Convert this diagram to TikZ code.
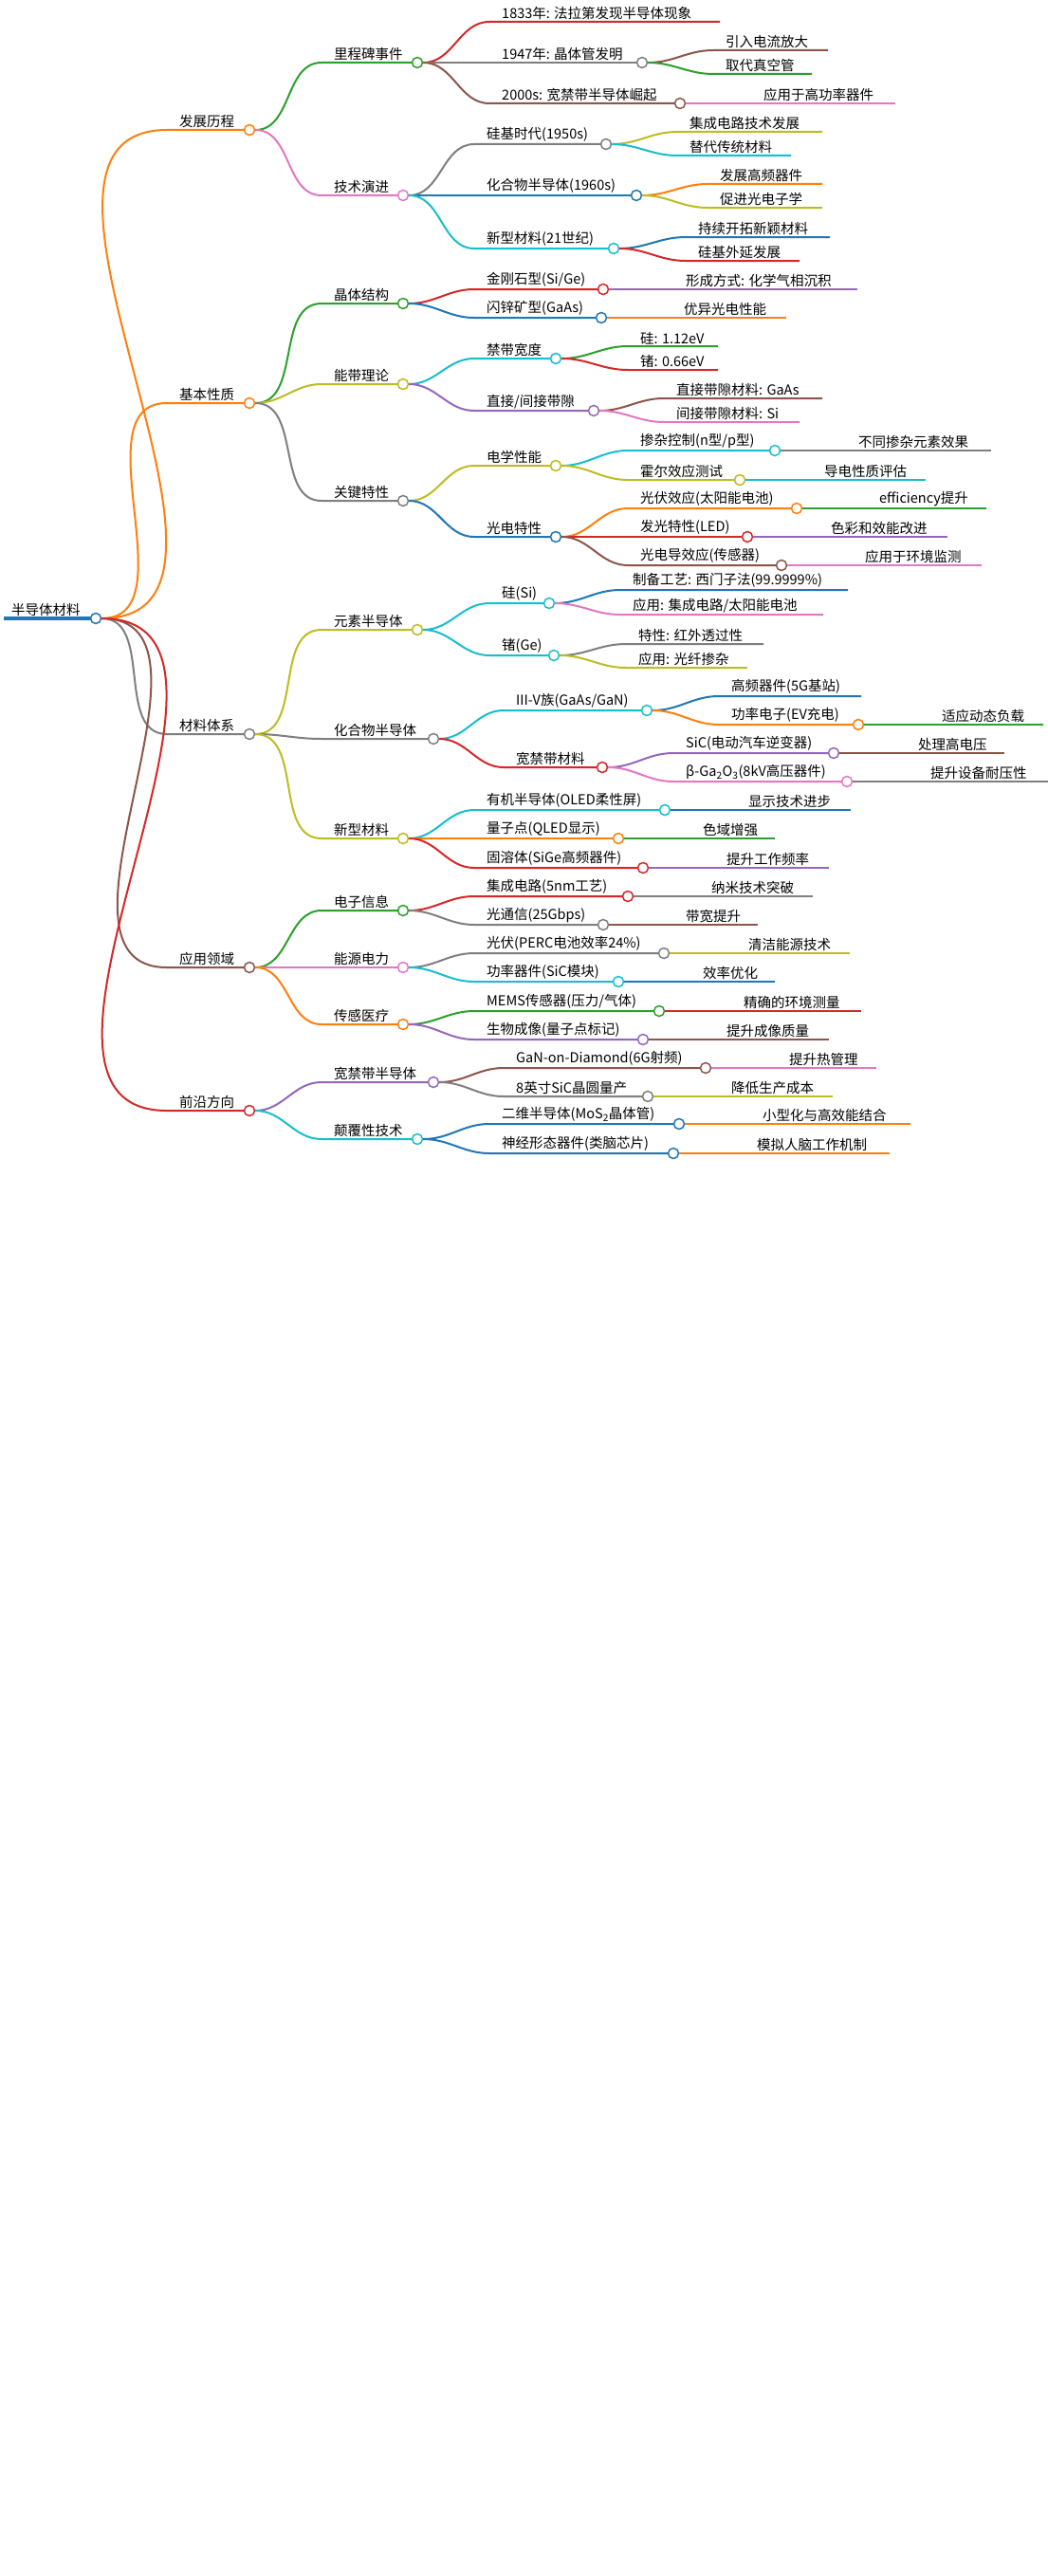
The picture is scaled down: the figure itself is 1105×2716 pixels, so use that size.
\documentclass[tikz,border=0pt]{standalone}
\usepackage{fontspec}
\setmainfont{Noto Sans CJK SC}
\definecolor{cred}{HTML}{D62728}
\definecolor{cgreen}{HTML}{2CA02C}
\definecolor{cgray}{HTML}{7F7F7F}
\definecolor{cbrown}{HTML}{8C564B}
\definecolor{cpink}{HTML}{E377C2}
\definecolor{colive}{HTML}{BCBD22}
\definecolor{ccyan}{HTML}{17BECF}
\definecolor{cblue}{HTML}{1F77B4}
\definecolor{corange}{HTML}{FF7F0E}
\definecolor{cpurple}{HTML}{9467BD}
\tikzset{
 edge/.style={line width=2pt},
 lab/.style={inner sep=1pt,font=\fontsize{14.5}{16}\selectfont,text=black},
 dot/.style={circle,fill=white,line width=1.5pt,minimum size=11pt,inner sep=0pt}
}
\newcommand\mnode[7]{%
 \coordinate (#1S) at (#4-14,#6);
 \draw[edge,#3] (#2.east) to[out=0,in=180] (#1S) -- (#5,#6);
 \node[lab,anchor=south west] (#1T) at (#4-2,#6-1) {#7};
 \node[dot,draw=#3] (#1) at (#5,#6) {};
}
\newcommand\lnode[7]{%
 \coordinate (#1S) at (#4-14,#6);
 \coordinate (#1E) at (#5,#6);
 \draw[edge,#3] (#2.east) to[out=0,in=180] (#1S) -- (#1E);
 \node[lab,anchor=south west] (#1T) at (#4-2,#6-1) {#7};
}
\begin{document}
\begin{tikzpicture}[x=1pt,y=-1pt]
\useasboundingbox[fill=white] (0,0) rectangle (1105,2716);
% root
\coordinate (rootS) at (4,652);
\draw[cblue,line width=4pt] (rootS) -- (101,652);
\node[lab,anchor=south west] (rootT) at (11,651) {半导体材料};
\node[dot,draw=cblue] (root) at (101,652) {};
% level 1
\mnode{a}{root}{corange}{190}{263}{137}{发展历程}
\mnode{b}{root}{corange}{190}{263}{425}{基本性质}
\mnode{c}{root}{cgray}{190}{263}{774}{材料体系}
\mnode{d}{root}{cbrown}{190}{263}{1020}{应用领域}
\mnode{e}{root}{cred}{190}{263}{1171}{前沿方向}
% 发展历程
\mnode{a1}{a}{cgreen}{353}{440}{66}{里程碑事件}
\mnode{a2}{a}{cpink}{353}{425}{206}{技术演进}
\lnode{a11}{a1}{cred}{530}{759}{23}{1833年: 法拉第发现半导体现象}
\mnode{a12}{a1}{cgray}{530}{677}{66}{1947年: 晶体管发明}
\mnode{a13}{a1}{cbrown}{530}{717}{109}{2000s: 宽禁带半导体崛起}
\lnode{a121}{a12}{cbrown}{766}{873}{53}{引入电流放大}
\lnode{a122}{a12}{cgreen}{766}{856}{78}{取代真空管}
\lnode{a131}{a13}{cpink}{806}{944}{109}{应用于高功率器件}
\mnode{a21}{a2}{cgray}{514}{639}{152}{硅基时代(1950s)}
\mnode{a22}{a2}{cblue}{514}{671}{206}{化合物半导体(1960s)}
\mnode{a23}{a2}{ccyan}{514}{647}{262}{新型材料(21世纪)}
\lnode{a211}{a21}{colive}{728}{867}{139}{集成电路技术发展}
\lnode{a212}{a21}{ccyan}{728}{834}{164}{替代传统材料}
\lnode{a221}{a22}{corange}{760}{867}{194}{发展高频器件}
\lnode{a222}{a22}{colive}{760}{867}{219}{促进光电子学}
\lnode{a231}{a23}{cblue}{737}{875}{250}{持续开拓新颖材料}
\lnode{a232}{a23}{cred}{737}{843}{275}{硅基外延发展}
% 基本性质
\mnode{b1}{b}{cgreen}{353}{425}{320}{晶体结构}
\mnode{b2}{b}{colive}{353}{425}{405}{能带理论}
\mnode{b3}{b}{cgray}{353}{425}{528}{关键特性}
\mnode{b11}{b1}{cred}{514}{636}{305}{金刚石型(Si/Ge)}
\mnode{b12}{b1}{cblue}{514}{634}{335}{闪锌矿型(GaAs)}
\lnode{b111}{b11}{cpurple}{724}{904}{305}{形成方式: 化学气相沉积}
\lnode{b121}{b12}{corange}{722}{829}{335}{优异光电性能}
\mnode{b21}{b2}{ccyan}{514}{586}{378}{禁带宽度}
\mnode{b22}{b2}{cpurple}{514}{626}{433}{直接/间接带隙}
\lnode{b211}{b21}{cgreen}{676}{757}{365}{硅: 1.12eV}
\lnode{b212}{b21}{cred}{676}{757}{390}{锗: 0.66eV}
\lnode{b221}{b22}{cbrown}{714}{867}{420}{直接带隙材料: GaAs}
\lnode{b222}{b22}{cpink}{714}{843}{445}{间接带隙材料: Si}
\mnode{b31}{b3}{colive}{514}{586}{491}{电学性能}
\mnode{b32}{b3}{cblue}{514}{586}{566}{光电特性}
\mnode{b311}{b31}{ccyan}{676}{817}{475}{掺杂控制(n型/p型)}
\mnode{b312}{b31}{colive}{676}{780}{506}{霍尔效应测试}
\lnode{b3111}{b311}{cgray}{906}{1045}{475}{不同掺杂元素效果}
\lnode{b3121}{b312}{ccyan}{870}{976}{506}{导电性质评估}
\mnode{b321}{b32}{corange}{676}{840}{536}{光伏效应(太阳能电池)}
\mnode{b322}{b32}{cred}{676}{788}{566}{发光特性(LED)}
\mnode{b323}{b32}{cbrown}{676}{824}{596}{光电导效应(传感器)}
\lnode{b3211}{b321}{cgreen}{928}{1040}{536}{efficiency提升}
\lnode{b3221}{b322}{cpurple}{877}{999}{566}{色彩和效能改进}
\lnode{b3231}{b323}{cpink}{913}{1035}{596}{应用于环境监测}
% 材料体系
\mnode{c1}{c}{colive}{353}{440}{664}{元素半导体}
\mnode{c2}{c}{cgray}{353}{457}{779}{化合物半导体}
\mnode{c3}{c}{colive}{353}{425}{884}{新型材料}
\mnode{c11}{c1}{ccyan}{530}{579}{636}{硅(Si)}
\mnode{c12}{c1}{ccyan}{530}{584}{691}{锗(Ge)}
\lnode{c111}{c11}{cblue}{668}{894}{622}{制备工艺: 西门子法(99.9999\%)}
\lnode{c112}{c11}{cpink}{668}{868}{648}{应用: 集成电路/太阳能电池}
\lnode{c121}{c12}{cgray}{674}{805}{679}{特性: 红外透过性}
\lnode{c122}{c12}{colive}{674}{788}{704}{应用: 光纤掺杂}
\mnode{c21}{c2}{ccyan}{545}{682}{749}{III-V族(GaAs/GaN)}
\mnode{c22}{c2}{cred}{545}{635}{809}{宽禁带材料}
\lnode{c211}{c21}{cblue}{772}{908}{734}{高频器件(5G基站)}
\mnode{c212}{c21}{corange}{772}{905}{764}{功率电子(EV充电)}
\lnode{c2121}{c212}{cgreen}{994}{1100}{764}{适应动态负载}
\mnode{c221}{c22}{cpurple}{724}{879}{794}{SiC(电动汽车逆变器)}
\mnode{c222}{c22}{cpink}{724}{893}{824}{β-Ga\textsubscript{2}O\textsubscript{3}(8kV高压器件)}
\lnode{c2211}{c221}{cbrown}{969}{1059}{794}{处理高电压}
\lnode{c2221}{c222}{cgray}{982}{1105}{824}{提升设备耐压性}
\mnode{c31}{c3}{ccyan}{514}{701}{854}{有机半导体(OLED柔性屏)}
\mnode{c32}{c3}{corange}{514}{652}{884}{量子点(QLED显示)}
\mnode{c33}{c3}{cred}{514}{678}{915}{固溶体(SiGe高频器件)}
\lnode{c311}{c31}{cblue}{790}{897}{854}{显示技术进步}
\lnode{c321}{c32}{cgreen}{742}{817}{884}{色域增强}
\lnode{c331}{c33}{cpurple}{767}{874}{915}{提升工作频率}
% 应用领域
\mnode{d1}{d}{cgreen}{353}{425}{960}{电子信息}
\mnode{d2}{d}{cpink}{353}{425}{1020}{能源电力}
\mnode{d3}{d}{corange}{353}{425}{1080}{传感医疗}
\mnode{d11}{d1}{cred}{514}{662}{945}{集成电路(5nm工艺)}
\mnode{d12}{d1}{cgray}{514}{636}{975}{光通信(25Gbps)}
\lnode{d111}{d11}{cgray}{751}{857}{945}{纳米技术突破}
\lnode{d121}{d12}{cbrown}{724}{799}{975}{带宽提升}
\mnode{d21}{d2}{cgray}{514}{700}{1005}{光伏(PERC电池效率24\%)}
\mnode{d22}{d2}{ccyan}{514}{652}{1035}{功率器件(SiC模块)}
\lnode{d211}{d21}{colive}{790}{896}{1005}{清洁能源技术}
\lnode{d221}{d22}{cblue}{742}{817}{1035}{效率优化}
\mnode{d31}{d3}{cgreen}{514}{695}{1066}{MEMS传感器(压力/气体)}
\mnode{d32}{d3}{cpurple}{514}{678}{1096}{生物成像(量子点标记)}
\lnode{d311}{d31}{cred}{785}{908}{1066}{精确的环境测量}
\lnode{d321}{d32}{cbrown}{767}{874}{1096}{提升成像质量}
% 前沿方向
\mnode{e1}{e}{cpurple}{353}{457}{1141}{宽禁带半导体}
\mnode{e2}{e}{ccyan}{353}{440}{1201}{颠覆性技术}
\mnode{e11}{e1}{cbrown}{545}{744}{1126}{GaN-on-Diamond(6G射频)}
\mnode{e12}{e1}{cgray}{545}{683}{1156}{8英寸SiC晶圆量产}
\lnode{e111}{e11}{cpink}{833}{924}{1126}{提升热管理}
\lnode{e121}{e12}{colive}{772}{878}{1156}{降低生产成本}
\mnode{e21}{e2}{cblue}{530}{716}{1185}{二维半导体(MoS\textsubscript{2}晶体管)}
\mnode{e22}{e2}{cblue}{530}{710}{1216}{神经形态器件(类脑芯片)}
\lnode{e211}{e21}{corange}{805}{960}{1185}{小型化与高效能结合}
\lnode{e221}{e22}{corange}{799}{938}{1216}{模拟人脑工作机制}
\end{tikzpicture}
\end{document}
